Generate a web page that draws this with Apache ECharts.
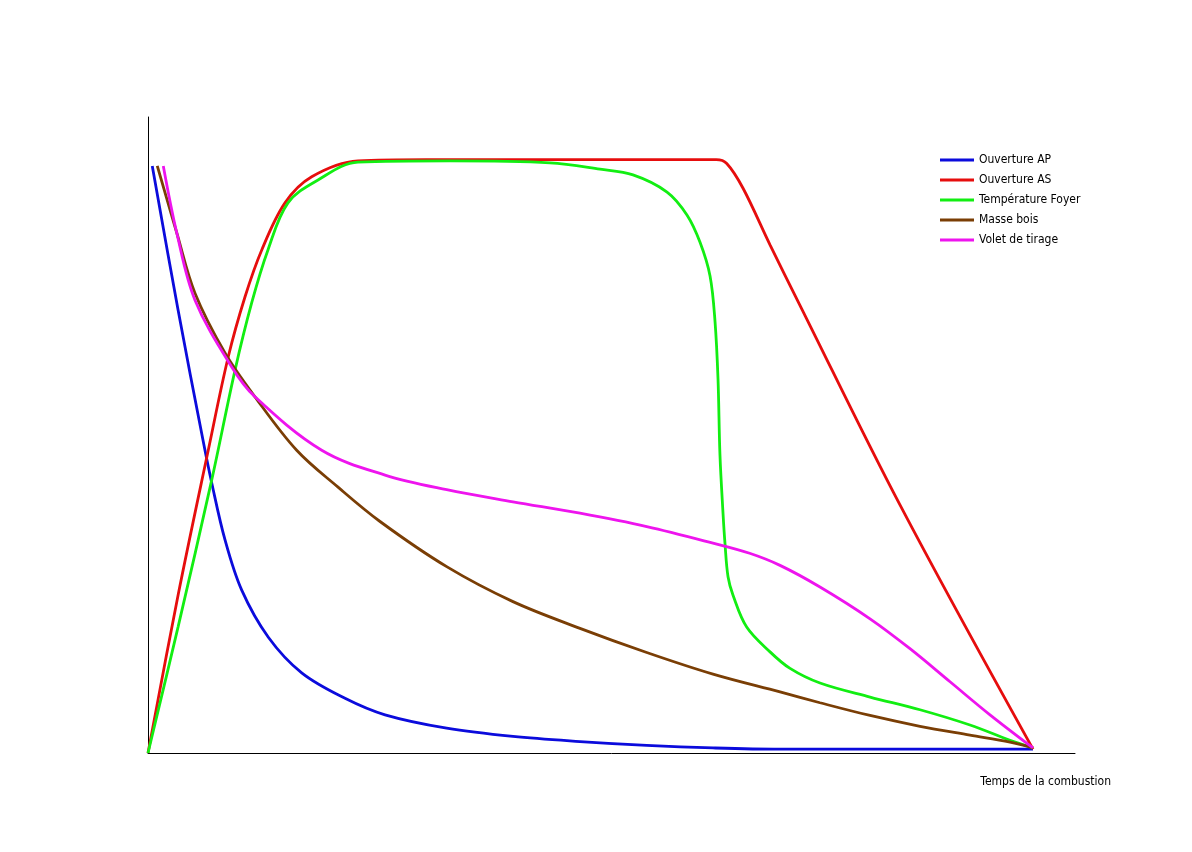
<!DOCTYPE html>
<html>
<head>
<meta charset="utf-8">
<script src="https://cdn.jsdelivr.net/npm/echarts@6/dist/echarts.min.js"></script>
<style>html,body{margin:0;padding:0;background:#fff}#c{width:1192px;height:852px}</style>
</head>
<body>
<div id="c"></div>
<script>
// Series names (legend)
const seriesNames = ['Ouverture AP', 'Ouverture AS', 'Température Foyer', 'Masse bois', 'Volet de tirage'];
const axisName = 'Temps de la combustion';

// Values: [time %, level %]
const ouvertureAP = [
  [0.46, 92.3], [3.24, 69.7], [5.93, 49.2], [6.87, 42.5], [8.31, 33.5], [10.11, 25.6],
  [12.98, 18.2], [16.58, 12.6], [21.25, 8.6], [25.57, 6.0], [32.22, 3.9], [39.37, 2.6],
  [46.6, 1.8], [53.8, 1.2], [60.95, 0.8], [68.18, 0.6], [81.0, 0.6], [95.47, 0.6]
];
const ouvertureAS = [
  [0, 0], [3.27, 25.0], [6.5, 47.6], [8.66, 62.3], [10.46, 71.7],
  [12.27, 79.1], [14.78, 86.5], [17.66, 90.6], [22.65, 93.1], [30, 93.3], [45, 93.3],
  [61.3, 93.3], [62.43, 92.7], [64.19, 88.8], [67.1, 79.9], [70.33, 70.4], [81.12, 39.0],
  [95.47, 0.6]
];
const temperatureFoyer = [
  [0, 0], [3.24, 19.8], [6.87, 42.9], [9.39, 60.2], [11.19, 70.8], [12.94, 79.1],
  [15.1, 86.5], [18.34, 90.1], [22.65, 92.9], [32.58, 93.1], [43.37, 92.8], [48.76, 91.8],
  [52.32, 90.9], [55.99, 88.2], [58.14, 84.6], [59.55, 80.3], [60.63, 75.0], [61.17, 67.8],
  [61.49, 58.8], [61.7, 46.9], [62.03, 37.7], [62.24, 33.0], [62.57, 27.7], [63.11, 24.8],
  [64.58, 19.8], [67.1, 15.9], [69.26, 13.3], [72.49, 11.0], [77.89, 8.8],
  [83.28, 6.8], [88.67, 4.4], [92.99, 2.0], [95.47, 0.8]
];
const masseBois = [
  [1.0, 92.3], [3.1, 81.8], [5.07, 72.3], [8.31, 62.9], [11.54, 56.0], [16.04, 47.6],
  [20.5, 41.8], [25.03, 36.4], [32.22, 29.3], [39.37, 23.8], [46.6, 19.6], [53.8, 15.8],
  [60.95, 12.4], [68.18, 9.6], [72.49, 7.9], [77.89, 5.9], [83.28, 4.2], [88.67, 2.8],
  [92.99, 1.7], [95.47, 0.8]
];
const voletTirage = [
  [1.65, 92.3], [3.1, 81.8], [5.07, 71.2], [9.03, 60.7], [11.54, 56.0],
  [18.74, 47.6], [25.57, 43.7], [32.22, 41.4], [39.37, 39.5], [46.6, 37.7],
  [53.8, 35.6], [60.95, 33.0], [64.9, 31.4], [68.18, 29.5], [72.49, 26.1], [77.89, 21.1], [82.2, 16.4],
  [86.52, 11.2], [90.83, 6.0], [95.47, 0.8]
];

const seriesData = [ouvertureAP, ouvertureAS, temperatureFoyer, masseBois, voletTirage];
const colors = ['#0b0bdc', '#e60d0d', '#12ee12', '#7a3e05', '#ee14ee'];

const font = '"DejaVu Sans Condensed", "Liberation Sans Narrow", "DejaVu Sans", sans-serif';

const chart = echarts.init(document.getElementById('c'), null, {renderer: 'canvas'});
chart.setOption({
  backgroundColor: '#ffffff',
  animation: false,
  grid: {left: 148, right: 117, top: 117, bottom: 99},
  legend: {
    orient: 'vertical',
    left: 940,
    top: 153,
    padding: 0,
    icon: 'rect',
    itemWidth: 34,
    itemHeight: 3,
    itemGap: 6,
    data: seriesNames,
    textStyle: {fontFamily: font, fontStyle: 'condensed', fontSize: 12, color: '#000', lineHeight: 14}
  },
  xAxis: {
    type: 'value', min: 0, max: 100,
    name: axisName, nameLocation: 'end', nameGap: 36,
    nameTextStyle: {fontFamily: font, fontStyle: 'condensed', fontSize: 12, color: '#000', align: 'right', verticalAlign: 'top', padding: [23, 0, 0, 0]},
    axisLine: {show: true, lineStyle: {color: '#000', width: 1}},
    axisTick: {show: false}, axisLabel: {show: false}, splitLine: {show: false}
  },
  yAxis: {
    type: 'value', min: 0, max: 100,
    axisLine: {show: true, lineStyle: {color: '#000', width: 1}},
    axisTick: {show: false}, axisLabel: {show: false}, splitLine: {show: false}
  },
  series: seriesNames.map((n, i) => ({
    name: n,
    type: 'line',
    data: seriesData[i],
    showSymbol: false,
    smooth: 0.35,
    lineStyle: {color: colors[i], width: 2.8},
    itemStyle: {color: colors[i]}
  }))
});
</script>
</body>
</html>
